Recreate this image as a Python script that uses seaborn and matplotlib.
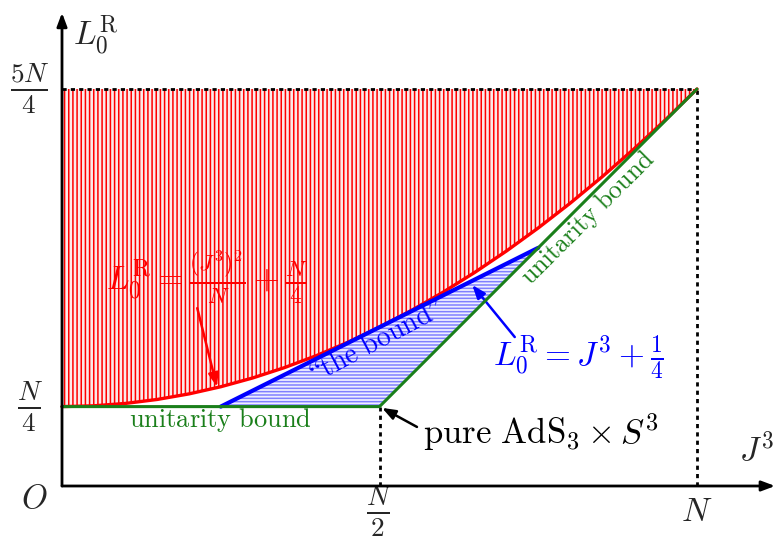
import numpy as np
import pandas as pd
import matplotlib
matplotlib.use("Agg")
import matplotlib.pyplot as plt
import seaborn as sns

# values (J3 and L0 in units of N)
j3_curve = [0.0, 0.05, 0.1, 0.15, 0.2, 0.25, 0.3, 0.35, 0.4, 0.45, 0.5,
            0.55, 0.6, 0.65, 0.7, 0.75, 0.8, 0.85, 0.9, 0.95, 1.0]
l0_curve = [0.25, 0.2525, 0.26, 0.2725, 0.29, 0.3125, 0.34, 0.3725, 0.41, 0.4525, 0.5,
            0.5525, 0.61, 0.6725, 0.74, 0.8125, 0.89, 0.9725, 1.06, 1.1525, 1.25]

bound_j3 = [0.25, 0.5, 0.75]
bound_l0 = [0.25, 0.5, 0.75]
bound_low = [0.25, 0.25, 0.75]   # unitarity bound under "the bound"

unit_j3 = [0.0, 0.5, 1.0]
unit_l0 = [0.25, 0.25, 1.25]

top_l0 = 1.25
xtick_vals = [0.5, 1.0]
xtick_labels = [r'$\frac{N}{2}$', r'$N$']
ytick_vals = [0.25, 1.25]
ytick_labels = [r'$\frac{N}{4}$', r'$\frac{5N}{4}$']

sns.set_style("white")
plt.rcParams['mathtext.fontset'] = 'cm'
plt.rcParams['font.family'] = ['DejaVu Serif']
plt.rcParams['hatch.linewidth'] = 1.1

RED = '#ff0000'
GREEN = '#1a7f1a'
BLUE = '#0000ff'

fig = plt.figure(figsize=(7.79, 5.39), dpi=100)
ax = fig.add_axes([0, 0, 1, 1])
ax.set_xlim(-62 / 635, 717 / 635)
ax.set_ylim(-53 / 317.6, 486 / 317.6)
ax.axis('off')

# hatched regions
ax.fill_between(j3_curve, l0_curve, top_l0, facecolor='#fbeaea', edgecolor=RED,
                hatch='||||', linewidth=0, zorder=1)
ax.fill_between(bound_j3, bound_low, bound_l0, facecolor='#eeeeff', edgecolor='#8080ff',
                hatch='-----', linewidth=0, zorder=1)

# dotted guide lines
dots = dict(color='black', lw=2, linestyle=(0, (1.5, 1.5)), zorder=2)
ax.plot([0, 1.0], [top_l0, top_l0], **dots)
ax.plot([1.0, 1.0], [0, top_l0], **dots)
ax.plot([0.5, 0.5], [0, 0.25], **dots)

# curves
df_curve = pd.DataFrame({'J3': j3_curve, 'L0': l0_curve})
sns.lineplot(data=df_curve, x='J3', y='L0', ax=ax, color=RED, lw=2.4, zorder=3)
df_unit = pd.DataFrame({'J3': unit_j3, 'L0': unit_l0})
sns.lineplot(data=df_unit, x='J3', y='L0', ax=ax, color=GREEN, lw=2.2, zorder=4,
             sort=False)
df_bound = pd.DataFrame({'J3': bound_j3, 'L0': bound_l0})
sns.lineplot(data=df_bound, x='J3', y='L0', ax=ax, color=BLUE, lw=3, zorder=3)

# axes with arrows
ax.annotate('', xy=(1.123, 0), xytext=(0, 0),
            arrowprops=dict(arrowstyle='-|>,head_length=0.8,head_width=0.3',
                            color='black', lw=2, shrinkA=0, shrinkB=0), zorder=5)
ax.annotate('', xy=(0, 1.49), xytext=(0, 0),
            arrowprops=dict(arrowstyle='-|>,head_length=0.8,head_width=0.3',
                            color='black', lw=2, shrinkA=0, shrinkB=0), zorder=5)

ax.text(0.017, 1.42, r'$L_0^{\rm R}$', fontsize=24, va='center', ha='left')
ax.text(1.094, 0.113, r'$J^3$', fontsize=24, va='center', ha='center')
ax.text(-0.043, -0.04, r'$O$', fontsize=24, va='center', ha='center')
ax.text(xtick_vals[0], -0.083, xtick_labels[0], fontsize=28, va='center', ha='center')
ax.text(xtick_vals[1], -0.083, xtick_labels[1], fontsize=24, va='center', ha='center')
for v, lab in zip(ytick_vals, ytick_labels):
    ax.text(-0.05, v, lab, fontsize=28, va='center', ha='center')

# annotations
arr = '-|>,head_length=0.8,head_width=0.3'
ax.text(0.228, 0.655, r'$L_0^{\rm R} = \frac{(J^3)^2}{N} + \frac{N}{4}$',
        fontsize=24, color=RED, va='center', ha='center')
ax.annotate('', xy=(0.244, 0.312), xytext=(0.213, 0.56),
            arrowprops=dict(arrowstyle=arr, color=RED, lw=1.8, shrinkA=0, shrinkB=0))

ax.text(0.8126, 0.403, r'$L_0^{\rm R} = J^3 + \frac{1}{4}$',
        fontsize=24, color=BLUE, va='center', ha='center')
ax.annotate('', xy=(0.646, 0.633), xytext=(0.713, 0.469),
            arrowprops=dict(arrowstyle=arr, color=BLUE, lw=1.8, shrinkA=0, shrinkB=0))

ax.text(0.5685, 0.170, r'$\mathrm{pure\ AdS}_3\times S^3$',
        fontsize=25, color='black', va='center', ha='left')
ax.annotate('', xy=(0.504, 0.246), xytext=(0.559, 0.186),
            arrowprops=dict(arrowstyle=arr, color='black', lw=1.8, shrinkA=0, shrinkB=0))

ax.text(0.249, 0.208, r'$\mathrm{unitarity\ bound}$', fontsize=19, color=GREEN,
        va='center', ha='center')
ax.text(0.828, 0.844, r'$\mathrm{unitarity\ bound}$', fontsize=18.5, color=GREEN,
        va='center', ha='center', rotation=45, rotation_mode='anchor')
ax.text(0.496, 0.455, '$\\mathrm{\u201cthe\\ bound\u201d}$', fontsize=20, color=BLUE,
        va='center', ha='center', rotation=28, rotation_mode='anchor')

fig.savefig('out.png', dpi=100)
